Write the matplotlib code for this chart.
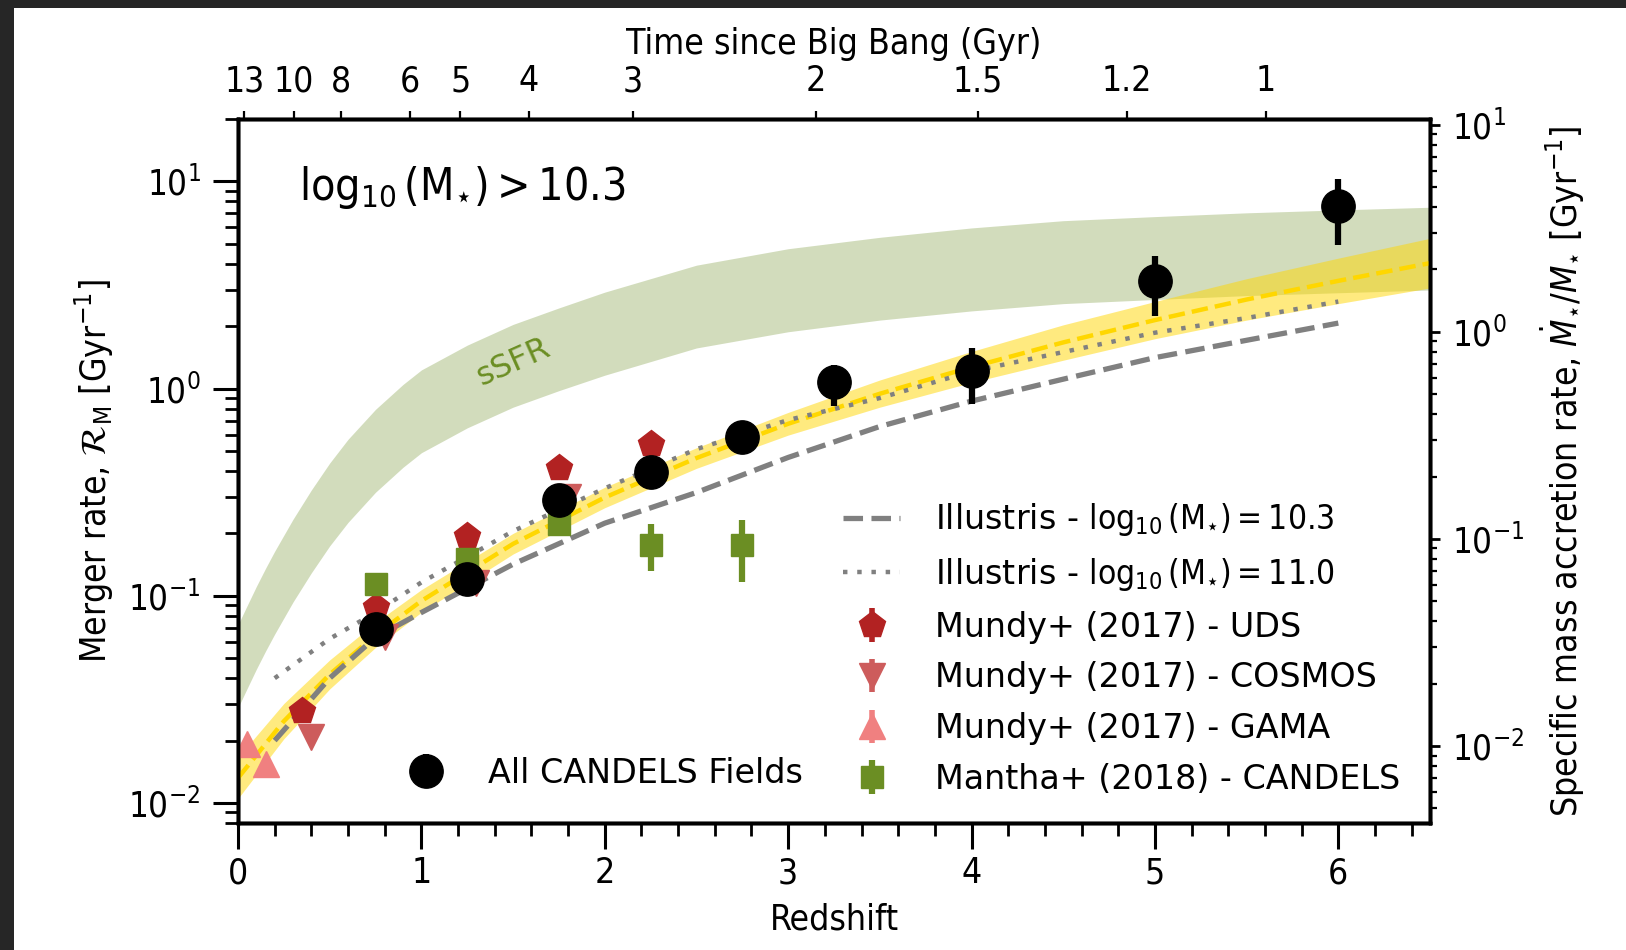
import numpy as np
import matplotlib
matplotlib.use('Agg')
import matplotlib.pyplot as plt
from matplotlib.ticker import MultipleLocator, NullLocator
from matplotlib.patches import Rectangle

plt.rcParams['font.family'] = ['DejaVu Sans']
plt.rcParams['font.stretch'] = 'condensed'
plt.rcParams['mathtext.fontset'] = 'dejavusans'

# All CANDELS fields (this work)
z_candels = [0.75, 1.25, 1.75, 2.25, 2.75, 3.25, 4.0, 5.0, 6.0]
r_candels = [0.069, 0.121, 0.291, 0.394, 0.584, 1.08, 1.21, 3.29, 7.62]
r_candels_lo = [0.006, 0.010, 0.025, 0.030, 0.045, 0.26, 0.37, 1.06, 2.7]
r_candels_hi = [0.006, 0.010, 0.025, 0.030, 0.045, 0.22, 0.36, 1.08, 2.6]

# Mundy+ (2017)
z_uds = [0.35, 0.75, 1.25, 1.75, 2.25]
r_uds = [0.0278, 0.088, 0.194, 0.414, 0.537]
z_cosmos = [0.4, 0.8, 1.3, 1.8]
r_cosmos = [0.0207, 0.063, 0.1155, 0.30]
z_gama = [0.05, 0.15]
r_gama = [0.0192, 0.0154]

# Mantha+ (2018)
z_mantha = [0.75, 1.25, 1.75, 2.25, 2.75]
r_mantha = [0.114, 0.150, 0.221, 0.175, 0.175]
r_mantha_lo = [0.010, 0.015, 0.020, 0.044, 0.059]
r_mantha_hi = [0.010, 0.015, 0.020, 0.046, 0.058]

# best fit and its uncertainty band
z_fit = [0, 0.25, 0.5, 0.75, 1, 1.5, 2, 2.5, 3, 3.5, 4, 4.5, 5, 5.5, 6, 6.5]
r_fit = [0.0132, 0.0248, 0.0417, 0.0646, 0.0944, 0.178, 0.298, 0.462, 0.676, 0.944, 1.27, 1.67, 2.14, 2.69, 3.31, 4.03]
r_fit_lo = [0.0105, 0.0204, 0.0355, 0.0563, 0.0832, 0.159, 0.266, 0.412, 0.596, 0.813, 1.07, 1.37, 1.74, 2.14, 2.57, 3.06]
r_fit_hi = [0.0166, 0.0302, 0.0490, 0.0742, 0.107, 0.200, 0.334, 0.518, 0.767, 1.10, 1.51, 2.03, 2.63, 3.39, 4.26, 5.31]

# Illustris
z_ill = [0.2, 0.5, 0.75, 1, 1.5, 2, 2.5, 3, 3.5, 4, 4.5, 5, 5.5, 6]
r_ill_103 = [0.020, 0.040, 0.063, 0.083, 0.142, 0.224, 0.315, 0.465, 0.656, 0.87, 1.11, 1.41, 1.71, 2.07]
r_ill_110 = [0.040, 0.062, 0.083, 0.116, 0.205, 0.330, 0.510, 0.705, 0.90, 1.21, 1.50, 1.86, 2.19, 2.63]

# sSFR band
z_ssfr = [0, 0.05, 0.1, 0.15, 0.2, 0.3, 0.4, 0.5, 0.6, 0.75, 0.9, 1.0, 1.25, 1.5, 1.75,
          2.0, 2.5, 3.0, 3.5, 4.0, 4.5, 5.0, 5.5, 6.0, 6.5]
ssfr_hi = [0.0724, 0.0897, 0.1109, 0.1355, 0.164, 0.234, 0.324, 0.437, 0.569, 0.794, 1.047, 1.23, 1.62,
           2.04, 2.45, 2.92, 3.94, 4.73, 5.37, 5.96, 6.46, 6.76, 7.05, 7.28, 7.50]
ssfr_lo = [0.0288, 0.0357, 0.0442, 0.0540, 0.0653, 0.0933, 0.129, 0.174, 0.226, 0.316, 0.417, 0.490, 0.646,
           0.813, 0.977, 1.16, 1.57, 1.88, 2.14, 2.37, 2.57, 2.69, 2.81, 2.90, 2.99]

# top axis: time since Big Bang
t_ticks = [13, 10, 8, 6, 5, 4, 3, 2, 1.5, 1.2, 1]
t_labels = ['13', '10', '8', '6', '5', '4', '3', '2', '1.5', '1.2', '1']


def z_at_age(t, h0=70.0, om=0.3):
    # flat LCDM, age in Gyr -> redshift
    ol = 1.0 - om
    a = 2.0 * (977.8 / h0) / (3.0 * np.sqrt(ol))
    return (np.sqrt(ol / om) / np.sinh(np.asarray(t) / a)) ** (2.0 / 3.0) - 1.0


fig = plt.figure(figsize=(16.26, 9.5), dpi=100)
fig.patches.append(Rectangle((0, 1 - 8 / 950), 1, 8 / 950, transform=fig.transFigure,
                             facecolor='#262626', edgecolor='none', zorder=-10))
fig.patches.append(Rectangle((0, 0), 14 / 1626, 1, transform=fig.transFigure,
                             facecolor='#262626', edgecolor='none', zorder=-10))

ax = fig.add_axes([238 / 1626, 1 - 823 / 950, (1430 - 238) / 1626, (823 - 119) / 950])
ax.set_yscale('log')
ax.set_xlim(0, 6.5)
ax.set_ylim(0.008, 20)

ax.fill_between(z_ssfr, ssfr_lo, ssfr_hi, color='olivedrab', alpha=0.3, lw=0, zorder=1)
ax.fill_between(z_fit, r_fit_lo, r_fit_hi, color='gold', alpha=0.5, lw=0, zorder=2)
ax.plot(z_fit, r_fit, '--', color='gold', lw=3.2, zorder=3)
ax.plot(z_ill, r_ill_103, '--', color='grey', lw=3.8, zorder=4,
        label=r'Illustris - $\log_{10}(\mathrm{M}_{\star}) = 10.3$')
ax.plot(z_ill, r_ill_110, color='grey', lw=3.2, ls=(0, (1, 2.2)), zorder=4,
        label=r'Illustris - $\log_{10}(\mathrm{M}_{\star}) = 11.0$')

ax.errorbar(z_uds, r_uds, yerr=[np.array(r_uds) * 0.08, np.array(r_uds) * 0.08], fmt='p',
            color='firebrick', ms=20, elinewidth=4, capsize=0, zorder=5,
            label='Mundy+ (2017) - UDS')
ax.errorbar(z_cosmos, r_cosmos, yerr=[np.array(r_cosmos) * 0.08, np.array(r_cosmos) * 0.08], fmt='v',
            color='indianred', ms=19, elinewidth=4, capsize=0, zorder=5,
            label='Mundy+ (2017) - COSMOS')
ax.errorbar(z_gama, r_gama, yerr=[np.array(r_gama) * 0.08, np.array(r_gama) * 0.08], fmt='^',
            color='lightcoral', ms=19, elinewidth=4, capsize=0, zorder=5,
            label='Mundy+ (2017) - GAMA')
ax.errorbar(z_mantha, r_mantha, yerr=[r_mantha_lo, r_mantha_hi], fmt='s',
            color='olivedrab', ms=16, elinewidth=4.5, capsize=0, zorder=6,
            label='Mantha+ (2018) - CANDELS')
cand = ax.errorbar(z_candels, r_candels, yerr=[r_candels_lo, r_candels_hi], fmt='o',
                   color='black', ms=24, elinewidth=4.5, capsize=0, zorder=7,
                   label='All CANDELS Fields')

ax.text(1.5, 1.33, 'sSFR', color='olivedrab', fontsize=23, rotation=24,
        ha='center', va='center', fontstretch='normal', zorder=3)
ax.text(0.051, 0.902, r'$\log_{10}(\mathrm{M}_{\star}) > 10.3$', transform=ax.transAxes,
        fontsize=32, ha='left', va='center')

ax.set_xlabel('Redshift', fontsize=25.5, labelpad=9)
ax.set_ylabel(r'Merger rate, $\mathcal{R}_{\rm M}$ [Gyr$^{-1}$]', fontsize=25.5, labelpad=9)
ax.xaxis.set_major_locator(MultipleLocator(1))
ax.xaxis.set_minor_locator(MultipleLocator(0.2))
ax.tick_params(axis='x', which='major', direction='out', length=19, width=2.2, pad=5, labelsize=25.5, top=False)
ax.tick_params(axis='x', which='minor', direction='out', length=9.5, width=2, top=False)
ax.tick_params(axis='y', which='major', direction='out', length=18, width=2.2, pad=9, labelsize=25, right=False)
ax.tick_params(axis='y', which='minor', direction='out', length=9.5, width=2, right=False)
for s in ax.spines.values():
    s.set_linewidth(2.5)

axr = ax.twinx()
axr.set_yscale('log')
axr.set_ylim(0.008 / 1.88, 20 / 1.88)
axr.set_ylabel(r'Specific mass accretion rate, $\dot{M}_{\star}/M_{\star}$ [Gyr$^{-1}$]',
               fontsize=25.5, labelpad=10)
axr.tick_params(axis='y', which='major', direction='out', length=7, width=2, pad=9, labelsize=25)
axr.tick_params(axis='y', which='minor', direction='out', length=5, width=1.6)

axt = ax.twiny()
axt.set_xlim(0, 6.5)
axt.set_xticks(z_at_age(t_ticks))
axt.set_xticklabels(t_labels)
axt.xaxis.set_minor_locator(NullLocator())
axt.tick_params(axis='x', which='major', direction='out', length=6, width=1.6, pad=9, labelsize=25.5)
axt.set_xlabel('Time since Big Bang (Gyr)', fontsize=25.5, labelpad=7)
for a in (axr, axt):
    for s in a.spines.values():
        s.set_linewidth(2.5)

handles, labels = ax.get_legend_handles_labels()
order = ['Illustris - $\\log_{10}(\\mathrm{M}_{\\star}) = 10.3$',
         'Illustris - $\\log_{10}(\\mathrm{M}_{\\star}) = 11.0$',
         'Mundy+ (2017) - UDS', 'Mundy+ (2017) - COSMOS',
         'Mundy+ (2017) - GAMA', 'Mantha+ (2018) - CANDELS']
hmap = dict(zip(labels, handles))
leg2 = ax.legend([hmap[k] for k in order], order, loc='center', bbox_to_anchor=(0.7416, 0.248),
                 frameon=False, prop={'size': 24, 'stretch': 'normal'},
                 handlelength=1.7, handletextpad=1.06, labelspacing=0.53)
ax.add_artist(leg2)
leg1 = ax.legend([cand], ['All CANDELS Fields'], loc='center', bbox_to_anchor=(0.304, 0.071),
                 frameon=False, prop={'size': 24, 'stretch': 'normal'},
                 handlelength=1.7, handletextpad=1.0)

fig.savefig('out.png', dpi=100)
